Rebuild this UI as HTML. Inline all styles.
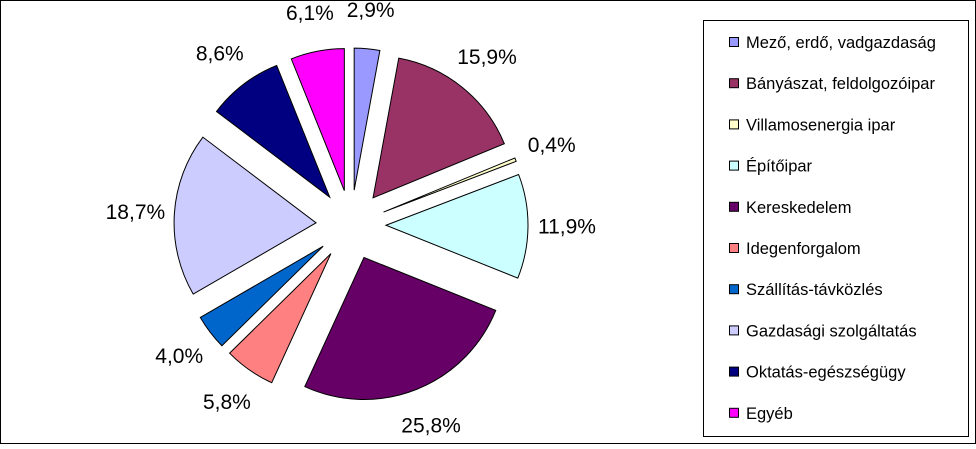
<!DOCTYPE html>
<html><head><meta charset="utf-8">
<style>
html,body{margin:0;padding:0;background:#fff;}
body{width:976px;height:444px;overflow:hidden;font-family:"Liberation Sans",Arial,sans-serif;}
</style></head>
<body>
<svg id="chart" width="976" height="444" viewBox="0 0 976 444" xmlns="http://www.w3.org/2000/svg">
<rect x="0.5" y="0.5" width="975" height="443" fill="#fff" stroke="#000" stroke-width="1"/>
<g id="slices"></g>
<g id="labels"></g>
<rect x="703.5" y="20.5" width="265" height="416" fill="#fff" stroke="#000" stroke-width="1"/>
<g id="legend"></g>
</svg>
<script>
const categories = ["Mező, erdő, vadgazdaság","Bányászat, feldolgozóipar","Villamosenergia ipar","Építőipar","Kereskedelem","Idegenforgalom","Szállítás-távközlés","Gazdasági szolgáltatás","Oktatás-egészségügy","Egyéb"];
const values = [2.9,15.9,0.4,11.9,25.8,5.8,4.0,18.7,8.6,6.1];
const valueLabels = ["2,9%","15,9%","0,4%","11,9%","25,8%","5,8%","4,0%","18,7%","8,6%","6,1%"];
const colors = ["#9999FF","#993366","#FFFFCC","#CCFFFF","#660066","#FF8080","#0066CC","#CCCCFF","#000080","#FF00FF"];

const NS = "http://www.w3.org/2000/svg";
const cx = 351, cy = 225, R = 142, offset = 35, labelR = 216;
const total = values.reduce((a,b)=>a+b,0);
const slicesG = document.getElementById('slices');
const labelsG = document.getElementById('labels');
const legendG = document.getElementById('legend');
function pt(x0,y0,r,a){return [x0+r*Math.sin(a), y0-r*Math.cos(a)];}
let cum = 0;
values.forEach((v,i)=>{
  const a0 = cum/total*2*Math.PI;
  cum += v;
  const a1 = cum/total*2*Math.PI;
  const mid = (a0+a1)/2;
  const [ox,oy] = pt(cx,cy,offset,mid);
  const [x0,y0] = pt(ox,oy,R,a0);
  const [x1,y1] = pt(ox,oy,R,a1);
  const large = (a1-a0)>Math.PI?1:0;
  const p = document.createElementNS(NS,'path');
  p.setAttribute('d',`M${ox},${oy} L${x0},${y0} A${R},${R} 0 ${large} 1 ${x1},${y1} Z`);
  p.setAttribute('fill',colors[i]);
  p.setAttribute('stroke','#000');
  p.setAttribute('stroke-width','1');
  
  
  slicesG.appendChild(p);
  const [lx,ly] = pt(cx,cy,labelR,mid);
  const t = document.createElementNS(NS,'text');
  t.setAttribute('x',lx);
  t.setAttribute('y',ly+7);
  t.setAttribute('text-anchor','middle');
  t.setAttribute('font-size','21');
  t.setAttribute('fill','#000');
  t.textContent = valueLabels[i];
  
  
  labelsG.appendChild(t);
});
categories.forEach((c,i)=>{
  const yc = 42 + i*41.2;
  const s = document.createElementNS(NS,'rect');
  s.setAttribute('x',729.5);
  s.setAttribute('y',yc-4.5);
  s.setAttribute('width',9);
  s.setAttribute('height',9);
  s.setAttribute('fill',colors[i]);
  s.setAttribute('stroke','#000');
  s.setAttribute('stroke-width','1');
  
  
  legendG.appendChild(s);
  const t = document.createElementNS(NS,'text');
  t.setAttribute('x',746);
  t.setAttribute('y',yc+6);
  t.setAttribute('font-size','16.5');
  t.setAttribute('fill','#000');
  t.textContent = c;
  
  
  legendG.appendChild(t);
});
</script>
</body></html>
